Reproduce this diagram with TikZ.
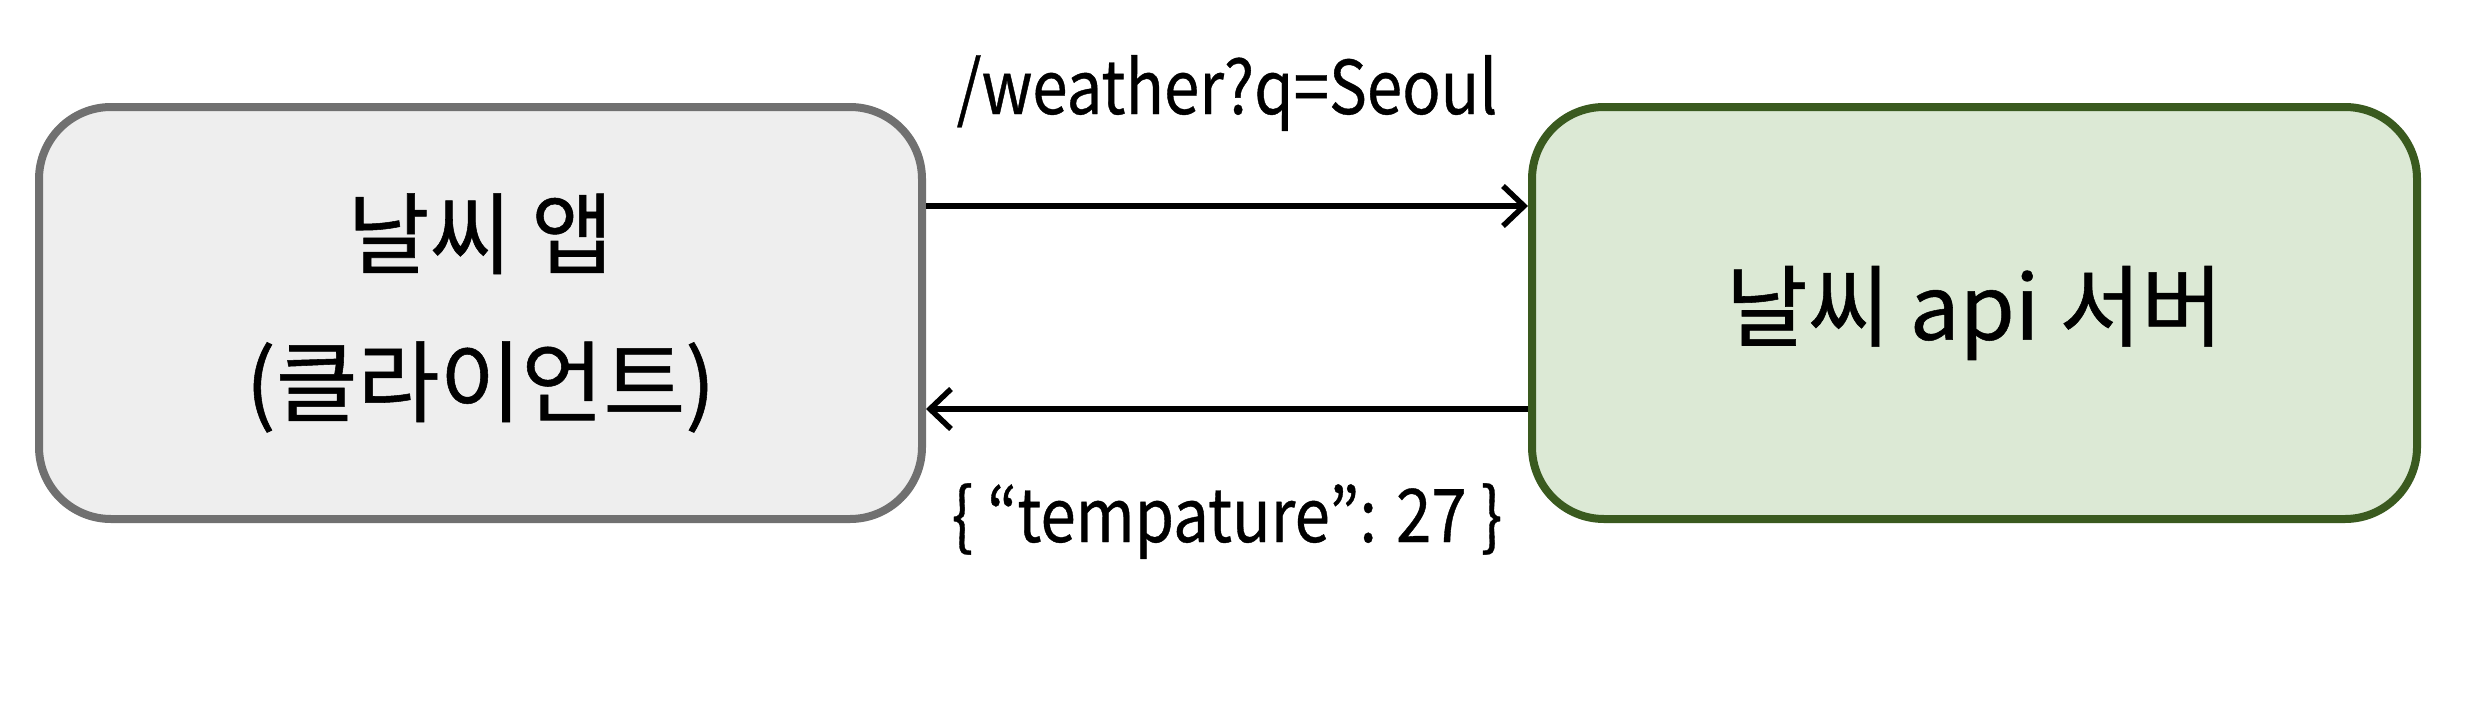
\documentclass[tikz,border=0pt]{standalone}
\usepackage{fontspec}
\setmainfont{Noto Sans CJK KR}[FakeBold=0.6]
\newfontfamily\lblfont{Noto Sans CJK KR}[FakeStretch=0.86,FakeBold=0.5]
\usetikzlibrary{arrows.meta}
\definecolor{grayedge}{HTML}{707070}
\definecolor{grayfill}{HTML}{EEEEEE}
\definecolor{greenedge}{HTML}{3A5A1F}
\definecolor{greenfill}{HTML}{DCE9D5}
\tikzset{
  box/.style={rectangle, rounded corners=72pt, line width=8pt, align=center,
    font=\fontsize{89}{148}\selectfont, inner sep=0pt},
  clientbox/.style={box, draw=grayedge, fill=grayfill, minimum width=883pt, minimum height=412pt},
  serverbox/.style={box, draw=greenedge, fill=greenfill, minimum width=885pt, minimum height=412pt},
  arr/.style={line width=6pt, -{Straight Barb[length=21pt,width=40pt,line width=5.5pt]}},
  lbl/.style={font=\lblfont\fontsize{74}{80}\selectfont, anchor=base, inner sep=0pt}
}
\begin{document}
\begin{tikzpicture}[x=1pt,y=-1pt]
\useasboundingbox (0,0) rectangle (2478,704);
\node[clientbox] (L) at (480.5,313) {날씨 앱\\(클라이언트)};
\node[serverbox] (R) at (1974.5,313) {날씨 api 서버};
\draw[arr] ([yshift=107pt]L.east) -- ([yshift=107pt]R.west);
\draw[arr] ([yshift=-96pt]R.west) -- ([yshift=-96pt]L.east);
\node[lbl] (q) at (1227,114) {/weather?q=Seoul};
\node[lbl] (resp) at (1227,542) {\{ “tempature”: 27 \}};
\end{tikzpicture}
\end{document}
